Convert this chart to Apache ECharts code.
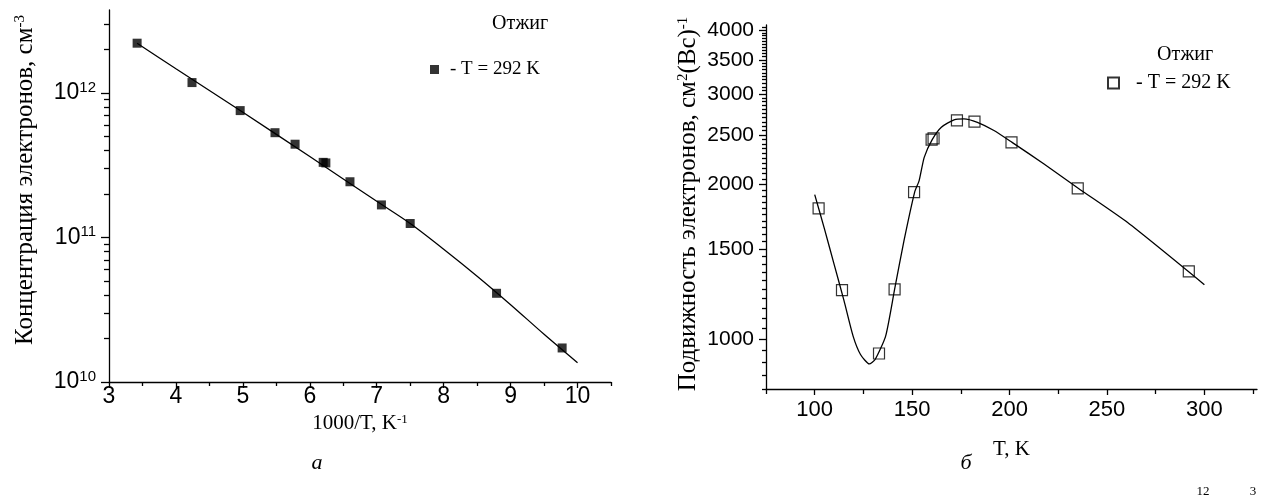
<!DOCTYPE html>
<html><head><meta charset="utf-8">
<script src="https://cdn.jsdelivr.net/npm/echarts@6/dist/echarts.min.js"></script>
<style>html,body{margin:0;padding:0;background:#fff}#c{width:1263px;height:495px}</style>
</head><body><div id="c"></div>
<script>
// ---- Left panel (а): concentration vs 1000/T ----
const invT = [3.42, 4.24, 4.96, 5.48, 5.78, 6.20, 6.24, 6.60, 7.07, 7.50, 8.79, 9.77];
const conc = [2.21e12, 1.18e12, 7.55e11, 5.31e11, 4.42e11, 3.31e11, 3.28e11, 2.43e11, 1.68e11, 1.25e11, 4.11e10, 1.72e10];
const fitInvT = [3.42, 4.0, 5.0, 6.0, 7.0, 7.5, 8.0, 8.5, 9.0, 9.5, 10.0];
const fitConc = [2.21e12, 1.47e12, 7.35e11, 3.63e11, 1.78e11, 1.25e11, 8.3e10, 5.4e10, 3.43e10, 2.14e10, 1.36e10];
const leftXTicks = [3, 4, 5, 6, 7, 8, 9, 10];
const leftYDecades = [1e10, 1e11, 1e12];

// ---- Right panel (б): mobility vs T ----
const tempK = [102, 114, 133, 141, 151, 160, 161, 173, 182, 201, 235, 292];
const mobility = [1797, 1246, 938, 1250, 1934, 2447, 2460, 2666, 2653, 2417, 1966, 1356];
const fitTemp = [100, 105, 110, 115, 119.7, 123.5, 128, 131, 136.4, 141, 145.8, 151.3, 153.6, 156.2, 160.3, 165, 171.5, 176.6, 183.5, 192, 201.3, 217.7, 235.4, 260.6, 300];
const fitMob  = [1912, 1640, 1397, 1190, 1014, 934, 895, 913, 1014, 1250, 1554, 1934, 2036, 2260, 2447, 2587, 2674, 2686, 2644, 2549, 2417, 2194, 1966, 1687, 1277];
const rightXTicks = [100, 150, 200, 250, 300];
const rightYTicks = [1000, 1500, 2000, 2500, 3000, 3500, 4000];

const legendTitle = 'Отжиг';
const legendItem = '- T = 292 K';

const L = Math.log10;
// minor tick positions (axis decoration)
const leftYMinor = [];
[1e10, 1e11].forEach(d => { for (let k = 2; k <= 9; k++) leftYMinor.push(L(k * d)); });
leftYMinor.push(L(2e12), L(3e12));
const leftXMinor = leftXTicks.map(v => v + 0.5);
const rightXMinor = [75, 125, 175, 225, 275, 325];
const rightYMinor = [];
for (let v = 800; v <= 4050; v += 50) if (rightYTicks.indexOf(v) < 0) rightYMinor.push(L(v));

const sans = 'Liberation Sans, Arial, sans-serif';
const serif = 'Liberation Serif, Times New Roman, serif';
const axisLineStyle = { color: '#000', width: 1.3 };

function baseAxis(extra) {
  return Object.assign({
    type: 'value', splitLine: { show: false },
    axisLine: { show: true, onZero: false, lineStyle: axisLineStyle },
  }, extra);
}

const chart = echarts.init(document.getElementById('c'), null, { renderer: 'canvas' });
chart.setOption({
  animation: false,
  backgroundColor: '#fff',
  grid: [
    { left: 109, top: 10, width: 502, height: 372 },
    { left: 766, top: 25, width: 491, height: 364 }
  ],
  xAxis: [
    baseAxis({ gridIndex: 0, min: 3, max: 10.5, position: 'bottom',
      axisTick: { inside: false, length: 6, lineStyle: axisLineStyle, customValues: leftXTicks },
      axisLabel: { customValues: leftXTicks, margin: 3, color: '#000', fontFamily: sans, fontSize: 23 },
      name: '1000/T, K{s|-1}', nameLocation: 'middle', nameGap: 19,
      nameTextStyle: { color: '#000', fontFamily: serif, fontSize: 21,
        rich: { s: { fontFamily: serif, fontSize: 13, verticalAlign: 'top', lineHeight: 13, color: '#000' } } } }),
    baseAxis({ gridIndex: 0, min: 3, max: 10.5, position: 'bottom', axisLine: { show: false },
      axisTick: { length: 4, lineStyle: axisLineStyle, customValues: leftXMinor },
      axisLabel: { show: false } }),
    baseAxis({ gridIndex: 1, min: 75, max: 327, position: 'bottom',
      axisTick: { length: 6, lineStyle: axisLineStyle, customValues: rightXTicks },
      axisLabel: { customValues: rightXTicks, margin: 10, color: '#000', fontFamily: sans, fontSize: 22 },
      name: 'T, K', nameLocation: 'middle', nameGap: 50,
      nameTextStyle: { color: '#000', fontFamily: serif, fontSize: 21 } }),
    baseAxis({ gridIndex: 1, min: 75, max: 327, position: 'bottom', axisLine: { show: false },
      axisTick: { length: 5, lineStyle: axisLineStyle, customValues: rightXMinor },
      axisLabel: { show: false } })
  ],
  yAxis: [
    baseAxis({ gridIndex: 0, min: 10, max: L(3.75e12), position: 'left',
      axisTick: { length: 8, lineStyle: axisLineStyle, customValues: leftYDecades.map(L) },
      axisLabel: { customValues: leftYDecades.map(L), margin: 13, color: '#000',
        formatter: v => '{b|10}{s|' + Math.round(v) + '}',
        rich: { b: { fontFamily: sans, fontSize: 23, lineHeight: 26, color: '#000' },
                s: { fontFamily: sans, fontSize: 15, verticalAlign: 'top', lineHeight: 15, color: '#000' } } } }),
    baseAxis({ gridIndex: 0, min: 10, max: L(3.75e12), position: 'left', axisLine: { show: false },
      axisTick: { length: 5, lineStyle: axisLineStyle, customValues: leftYMinor },
      axisLabel: { show: false } }),
    baseAxis({ gridIndex: 1, min: L(800), max: L(4090), position: 'left',
      axisTick: { length: 7, lineStyle: axisLineStyle, customValues: rightYTicks.map(L) },
      axisLabel: { customValues: rightYTicks.map(L), margin: 12, color: '#000', fontFamily: sans, fontSize: 21,
        formatter: v => String(Math.round(Math.pow(10, v))) } }),
    baseAxis({ gridIndex: 1, min: L(800), max: L(4090), position: 'left', axisLine: { show: false },
      axisTick: { length: 4, lineStyle: axisLineStyle, customValues: rightYMinor },
      axisLabel: { show: false } })
  ],
  legend: [
    { data: [{ name: 'A' }], left: 425, top: 55, itemWidth: 9, itemHeight: 9, icon: 'rect',
      formatter: () => legendItem, textStyle: { fontFamily: serif, fontSize: 19, color: '#000', padding: [0, 0, 0, 6] } },
    { data: [{ name: 'B' }], left: 1102, top: 68, itemWidth: 11, itemHeight: 11, icon: 'rect',
      formatter: () => legendItem, textStyle: { fontFamily: serif, fontSize: 20, color: '#000', padding: [0, 0, 0, 12] } }
  ],
  title: [
    { text: legendTitle, left: 487, top: 9, textStyle: { fontFamily: serif, fontSize: 20, fontWeight: 'normal', color: '#000' } },
    { text: legendTitle, left: 1152, top: 40, textStyle: { fontFamily: serif, fontSize: 20, fontWeight: 'normal', color: '#000' } }
  ],
  graphic: [
    { type: 'text', x: 25, y: 180, rotation: Math.PI / 2, style: {
        text: 'Концентрация электронов, см{s|-3}', fill: '#000', font: '25px ' + serif,
        align: 'center', verticalAlign: 'middle',
        rich: { s: { fontFamily: serif, fontSize: 15, verticalAlign: 'top', lineHeight: 15, fill: '#000' } } } },
    { type: 'text', x: 688, y: 204, rotation: Math.PI / 2, style: {
        text: 'Подвижность электронов, см{s|2}(Вс){s|-1}', fill: '#000', font: '25px ' + serif,
        align: 'center', verticalAlign: 'middle',
        rich: { s: { fontFamily: serif, fontSize: 15, verticalAlign: 'top', lineHeight: 15, fill: '#000' } } } },
    { type: 'text', x: 317, y: 463, style: { text: 'а', fill: '#000', font: 'italic 22px ' + serif, align: 'center', verticalAlign: 'middle' } },
    { type: 'text', x: 966, y: 463, style: { text: 'б', fill: '#000', font: 'italic 22px ' + serif, align: 'center', verticalAlign: 'middle' } },
    { type: 'text', x: 1203, y: 485, style: { text: '12', fill: '#000', font: '13px ' + serif, align: 'center' } },
    { type: 'text', x: 1253, y: 485, style: { text: '3', fill: '#000', font: '13px ' + serif, align: 'center' } }
  ],
  series: [
    { name: 'fitA', type: 'line', xAxisIndex: 0, yAxisIndex: 0, showSymbol: false, symbol: 'none', smooth: 0.3,
      lineStyle: { color: '#000', width: 1.3 }, data: fitInvT.map((x, i) => [x, L(fitConc[i])]), z: 2 },
    { name: 'A', type: 'scatter', xAxisIndex: 0, yAxisIndex: 0, symbol: 'rect', symbolSize: 9,
      itemStyle: { color: '#000' }, data: invT.map((x, i) => [x, L(conc[i])]), z: 3 },
    { name: 'fitB', type: 'line', xAxisIndex: 2, yAxisIndex: 2, showSymbol: false, symbol: 'none', smooth: 0.2,
      lineStyle: { color: '#000', width: 1.3 }, data: fitTemp.map((x, i) => [x, L(fitMob[i])]), z: 2 },
    { name: 'B', type: 'scatter', xAxisIndex: 2, yAxisIndex: 2, symbol: 'rect', symbolSize: 11,
      itemStyle: { color: 'rgba(255,255,255,0)', borderColor: '#000', borderWidth: 1.2 },
      data: tempK.map((x, i) => [x, L(mobility[i])]), z: 3 }
  ]
});
</script></body></html>
